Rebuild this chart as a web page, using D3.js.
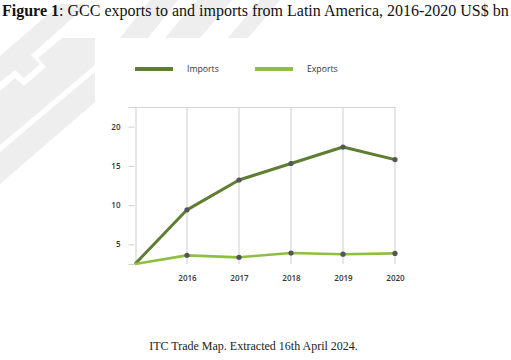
<!DOCTYPE html>
<html><head><meta charset="utf-8">
<script src="https://cdn.jsdelivr.net/npm/d3@7"></script>
<style>body{margin:0;background:#fff}svg{display:block}</style>
</head><body><svg id="c" width="511" height="360"></svg>
<script>
const years = ["2016", "2017", "2018", "2019", "2020"];
const imports = [9.4, 13.2, 15.3, 17.4, 15.8];
const exportsV = [3.6, 3.35, 3.9, 3.75, 3.85];
const startValue = 2.5;
const yTicks = [5, 10, 15, 20];
const seriesNames = ["Imports", "Exports"];
const colors = {Imports: "#5f7d33", Exports: "#8fbf3f"};

const svg = d3.select("#c");

// faint watermark
const wm = svg.append("g").attr("fill", "#eeeeee");
const polys = [
  [[0,184],[95,102],[95,72],[0,152]],
  [[0,145],[95,65],[95,38],[62,38],[38,58],[46,67],[24,86],[15,78],[0,91]],
  [[0,82],[15,70],[24,78],[40,64],[31,55],[88,4],[60,4],[0,56]],
  [[120,38],[148,38],[178,0],[150,0]],
  [[165,38],[200,38],[232,0],[197,0]],
  [[228,38],[248,38],[280,0],[260,0]]
];
polys.forEach(p => wm.append("path").attr("d", d3.line()(p) + "Z"));

svg.append("rect").attr("x", 95).attr("y", 38).attr("width", 416).attr("height", 322).attr("fill", "#fff");

// title
const title = svg.append("text").attr("x", 2).attr("y", 16)
  .attr("font-family", "Liberation Serif, Times New Roman, serif").attr("font-size", 16).attr("fill", "#111");
title.append("tspan").attr("font-weight", "bold").text("Figure 1");
title.append("tspan").text(": GCC exports to and imports from Latin America, 2016-2020 US$ bn");

// scales
const x = d3.scalePoint().domain(["", ...years]).range([135, 395]);
const y = d3.scaleLinear().domain([2.5, 22.5]).range([264, 107]);

// grid / frame
const g = svg.append("g");
g.selectAll(".vg").data(years).join("line")
  .attr("x1", d => x(d)).attr("x2", d => x(d)).attr("y1", y(22.5)).attr("y2", y(2.5))
  .attr("stroke", "#cfcfcf").attr("stroke-width", 1);
g.append("line").attr("x1", x("")).attr("x2", x("2020")).attr("y1", y(22.5) + 0.5).attr("y2", y(22.5) + 0.5)
  .attr("stroke", "#d6d6d6");

// y axis
const yAxis = d3.axisLeft(y).tickValues(yTicks).tickSize(7).tickPadding(8);
const ya = svg.append("g").attr("transform", `translate(${x("") + 0.5},0)`).call(yAxis);
ya.select(".domain").attr("stroke", "#cfcfcf");
ya.selectAll(".tick line").attr("stroke", "#cfcfcf").attr("x2", -7).attr("x1", -1);
ya.selectAll(".tick text").attr("font-family", "Open Sans, sans-serif").attr("font-size", 8)
  .attr("font-weight", 600).attr("fill", "#333");

// x labels
const xAxis = d3.axisBottom(x).tickValues(years).tickSize(0).tickPadding(11);
const xa = svg.append("g").attr("transform", `translate(0,${y(2.5)})`).call(xAxis);
xa.select(".domain").remove();
xa.selectAll(".tick text").attr("font-family", "Open Sans, sans-serif").attr("font-size", 8)
  .attr("font-weight", 600).attr("fill", "#333");

// lines
const series = [
  {name: "Imports", values: imports, w: 3},
  {name: "Exports", values: exportsV, w: 2.6}
];
const line = d3.line().x(d => x(d.k)).y(d => y(d.v));
series.forEach(s => {
  const pts = [{k: "", v: startValue}, ...years.map((k, i) => ({k, v: s.values[i]}))];
  svg.append("path").datum(pts).attr("d", line).attr("fill", "none")
    .attr("stroke", colors[s.name]).attr("stroke-width", s.w).attr("stroke-linejoin", "round");
});
series.forEach(s => {
  svg.append("g").selectAll("circle").data(years.map((k, i) => ({k, v: s.values[i]}))).join("circle")
    .attr("cx", d => x(d.k)).attr("cy", d => y(d.v)).attr("r", 2.6).attr("fill", "#555");
});

// legend
const legX = [135, 255];
seriesNames.forEach((n, i) => {
  svg.append("rect").attr("x", legX[i]).attr("y", 67).attr("width", 38).attr("height", 4).attr("fill", colors[n]);
  svg.append("text").attr("x", legX[i] + 52).attr("y", 72).attr("font-family", "Open Sans, sans-serif")
    .attr("font-size", 8.7).attr("fill", "#333").text(n);
});

// footer
svg.append("text").attr("x", 253.5).attr("y", 350).attr("text-anchor", "middle")
  .attr("font-family", "Liberation Serif, Times New Roman, serif").attr("font-size", 12).attr("fill", "#222")
  .text("ITC Trade Map. Extracted 16th April 2024.");
</script></body></html>
